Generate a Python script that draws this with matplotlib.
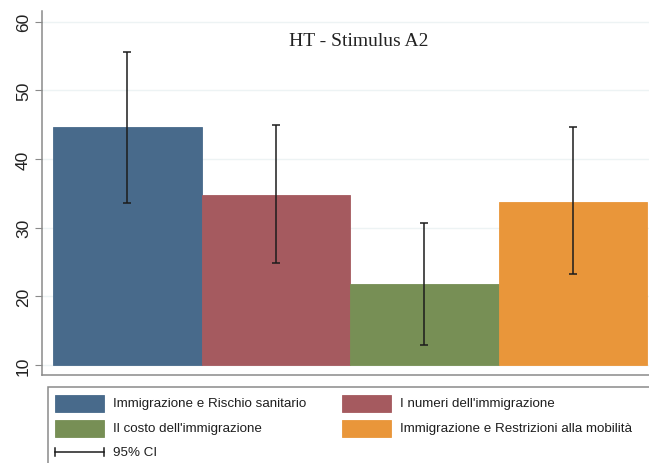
import matplotlib
matplotlib.use("Agg")
import matplotlib.pyplot as plt
from matplotlib.patches import Rectangle
from matplotlib.lines import Line2D

# Group labels, means and 95% confidence bounds
categories = [
    "Immigrazione e Rischio sanitario",
    "I numeri dell'immigrazione",
    "Il costo dell'immigrazione",
    "Immigrazione e Restrizioni alla mobilità",
]
means = [44.6, 34.8, 21.8, 33.8]
ci_low = [33.6, 24.8, 12.9, 23.3]
ci_high = [55.6, 45.0, 30.7, 44.6]
yticks = [10, 20, 30, 40, 50, 60]
title = "HT - Stimulus A2"
ci_label = "95% CI"

colors = ["#486a8b", "#a55a5f", "#778f55", "#e9963a"]
base = 10

W, H = 649, 464
fig = plt.figure(figsize=(W / 100, H / 100), dpi=100)
fig.patch.set_facecolor("white")

# Main plotting region (pixel geometry converted to figure fractions)
left_px, right_px, top_px, bottom_px = 42, 649, 12, 376
ax = fig.add_axes([left_px / W, 1 - bottom_px / H,
                   (right_px - left_px) / W, (bottom_px - top_px) / H])

xs = list(range(len(means)))
heights = [m - base for m in means]
ax.bar(xs, heights, bottom=base, width=1.0, align="edge",
       color=colors, edgecolor=colors, linewidth=0.6, zorder=2)

centers = [x + 0.5 for x in xs]
err_lo = [m - lo for m, lo in zip(means, ci_low)]
err_hi = [hi - m for m, hi in zip(means, ci_high)]
ax.errorbar(centers, means, yerr=[err_lo, err_hi], fmt="none",
            ecolor="#1c1c1c", elinewidth=1.1, capsize=3.0, capthick=1.1,
            zorder=3)

ax.set_xlim(-0.074, 4.013)
ax.set_ylim(8.54, 61.56)
ax.set_yticks(yticks)
ax.set_yticklabels([str(t) for t in yticks], rotation=90, va="center",
                   fontsize=12.5, family="Liberation Sans", color="#222222")
ax.set_xticks([])
ax.grid(axis="y", color="#edf3f4", linewidth=1.0, zorder=0)
ax.set_axisbelow(True)
for s in ["top", "right"]:
    ax.spines[s].set_visible(False)
for s in ["left", "bottom"]:
    ax.spines[s].set_color("#8a8a8a")
    ax.spines[s].set_linewidth(1.1)
ax.tick_params(axis="y", length=5, width=0.8, color="#8a8a8a", pad=3)

fig.text(359 / W, 1 - 46.5 / H, title, ha="center", va="baseline",
         fontsize=14, family="Liberation Serif", color="#222222")

# Legend drawn in a full-figure overlay using pixel coordinates
lg = fig.add_axes([0, 0, 1, 1], facecolor="none")
lg.set_xlim(0, W)
lg.set_ylim(H, 0)
lg.axis("off")
lg.add_patch(Rectangle((48, 388), 700, 120, facecolor="white",
                       edgecolor="#8a8a8a", linewidth=1.1))

col_x = [55, 342]
row_y = [404.5, 429.5]
sw_w, sw_h = 49, 17
txt_kw = dict(fontsize=9.6, family="Liberation Sans", color="#1e1e1e",
              va="center", ha="left")
for i, (lab, col) in enumerate(zip(categories, colors)):
    cx = col_x[i % 2]
    cy = row_y[i // 2]
    lg.add_patch(Rectangle((cx, cy - sw_h / 2), sw_w, sw_h, facecolor=col,
                           edgecolor=col, linewidth=0.6))
    lg.text(cx + sw_w + 9, cy, lab, **txt_kw)

ci_y = 453
lg.add_line(Line2D([55, 104], [ci_y, ci_y], color="#1c1c1c", linewidth=1.1))
for xe in (55, 104):
    lg.add_line(Line2D([xe, xe], [ci_y - 4, ci_y + 4], color="#1c1c1c",
                       linewidth=1.1))
lg.text(113, ci_y, ci_label, **txt_kw)

fig.savefig("out.png", dpi=100)
